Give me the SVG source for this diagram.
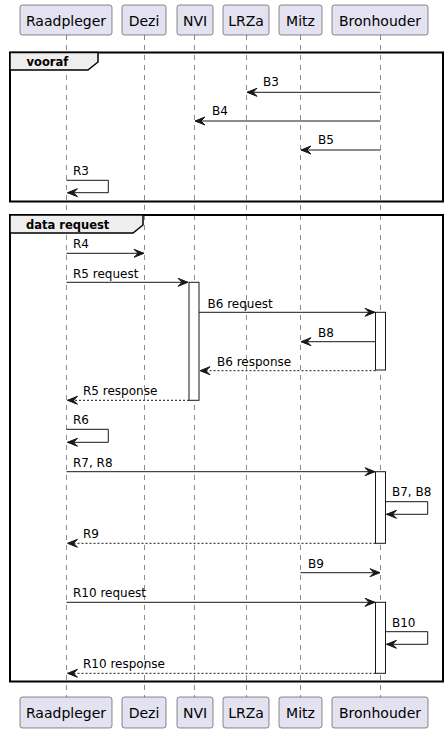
<svg xmlns="http://www.w3.org/2000/svg" width="447" height="733" viewBox="0 0 447 733">
<style>
.pbox{fill:#E2E2F0;stroke:#181818;stroke-width:0.5}
.pt{font-family:"DejaVu Sans",sans-serif;font-size:14px;fill:#000;text-anchor:middle}
.life{stroke:#181818;stroke-width:0.5;stroke-dasharray:5,5}
.frame{fill:none;stroke:#000;stroke-width:2}
.tab{fill:#EEEEEE;stroke:#000;stroke-width:1.5}
.tt{font-family:"DejaVu Sans",sans-serif;font-size:11.5px;font-weight:bold;fill:#000}
.act{fill:#FFFFFF;stroke:#181818;stroke-width:1}
.msg{fill:none;stroke:#181818;stroke-width:1;marker-end:url(#arr)}
.ret{fill:none;stroke:#181818;stroke-width:1;stroke-dasharray:2,2;marker-end:url(#arr)}
.ml{font-family:"DejaVu Sans",sans-serif;font-size:12px;fill:#000}
</style>
<defs>
<marker id="arr" markerUnits="userSpaceOnUse" markerWidth="12" markerHeight="10" refX="10" refY="4" orient="auto" overflow="visible">
<path d="M0,0 L10,4 L0,8 L4,4 Z" fill="#181818" stroke="#181818" stroke-width="1"/>
</marker>
</defs>
<rect width="447" height="733" fill="#FFFFFF"/>
<g id="lifelines">
<line class="life" x1="66.5" y1="35" x2="66.5" y2="697"/>
<line class="life" x1="144.5" y1="35" x2="144.5" y2="697"/>
<line class="life" x1="194.5" y1="35" x2="194.5" y2="697"/>
<line class="life" x1="246.5" y1="35" x2="246.5" y2="697"/>
<line class="life" x1="300.5" y1="35" x2="300.5" y2="697"/>
<line class="life" x1="380.5" y1="35" x2="380.5" y2="697"/>
</g>
<g id="frame-vooraf">
<rect class="frame" x="10" y="52.5" width="433" height="149"/>
<path class="tab" d="M10,52.5 H98 V62 L88,70 H10 Z"/>
<text class="tt" x="26.5" y="66">vooraf</text>
</g>
<g id="frame-data-request">
<rect class="frame" x="10" y="215" width="433" height="466.5"/>
<path class="tab" d="M10,215 H143 V225 L133,233 H10 Z"/>
<text class="tt" x="26" y="228.5">data request</text>
</g>
<g id="Raadpleger">
<rect class="pbox" x="20" y="5" width="92" height="30" rx="2.5"/>
<text class="pt" x="66" y="25.5">Raadpleger</text>
<rect class="pbox" x="20" y="697" width="92" height="31" rx="2.5"/>
<text class="pt" x="66" y="717.5">Raadpleger</text>
</g>
<g id="Dezi">
<rect class="pbox" x="122" y="5" width="44" height="30" rx="2.5"/>
<text class="pt" x="144" y="25.5">Dezi</text>
<rect class="pbox" x="122" y="697" width="44" height="31" rx="2.5"/>
<text class="pt" x="144" y="717.5">Dezi</text>
</g>
<g id="NVI">
<rect class="pbox" x="177" y="5" width="36" height="30" rx="2.5"/>
<text class="pt" x="195" y="25.5">NVI</text>
<rect class="pbox" x="177" y="697" width="36" height="31" rx="2.5"/>
<text class="pt" x="195" y="717.5">NVI</text>
<rect class="act" x="189" y="282.3" width="10" height="118"/>
</g>
<g id="LRZa">
<rect class="pbox" x="223" y="5" width="46" height="30" rx="2.5"/>
<text class="pt" x="246" y="25.5">LRZa</text>
<rect class="pbox" x="223" y="697" width="46" height="31" rx="2.5"/>
<text class="pt" x="246" y="717.5">LRZa</text>
</g>
<g id="Mitz">
<rect class="pbox" x="279" y="5" width="43" height="30" rx="2.5"/>
<text class="pt" x="300.5" y="25.5">Mitz</text>
<rect class="pbox" x="279" y="697" width="43" height="31" rx="2.5"/>
<text class="pt" x="300.5" y="717.5">Mitz</text>
</g>
<g id="Bronhouder">
<rect class="pbox" x="332" y="5" width="96" height="30" rx="2.5"/>
<text class="pt" x="380" y="25.5">Bronhouder</text>
<rect class="pbox" x="332" y="697" width="96" height="31" rx="2.5"/>
<text class="pt" x="380" y="717.5">Bronhouder</text>
<rect class="act" x="375.5" y="312.3" width="10" height="57.7"/>
<rect class="act" x="375.5" y="471.7" width="10" height="71.6"/>
<rect class="act" x="375.5" y="602.3" width="10" height="71"/>
</g>
<g id="connectors">
<line class="msg" x1="380.5" y1="92.3" x2="247" y2="92.3"/>
<text class="ml" x="263" y="86">B3</text>
<line class="msg" x1="380.5" y1="121" x2="195" y2="121"/>
<text class="ml" x="212" y="115">B4</text>
<line class="msg" x1="380.5" y1="150" x2="301" y2="150"/>
<text class="ml" x="318" y="144">B5</text>
<path class="msg" d="M66.5,180.3 H108.3 V192.7 H67.5"/>
<text class="ml" x="73" y="174.5">R3</text>

<line class="msg" x1="66.5" y1="253.3" x2="144" y2="253.3"/>
<text class="ml" x="73" y="248.3">R4</text>
<line class="msg" x1="66.5" y1="282.3" x2="188" y2="282.3"/>
<text class="ml" x="73" y="277.5">R5 request</text>
<line class="msg" x1="199" y1="312.3" x2="375" y2="312.3"/>
<text class="ml" x="207.5" y="307.5">B6 request</text>
<line class="msg" x1="375.5" y1="341.7" x2="301" y2="341.7"/>
<text class="ml" x="318" y="336.5">B8</text>
<line class="ret" x1="375.5" y1="370.7" x2="200" y2="370.7"/>
<text class="ml" x="217" y="365.5">B6 response</text>
<line class="ret" x1="189" y1="400.3" x2="67.5" y2="400.3"/>
<text class="ml" x="83" y="395">R5 response</text>
<path class="msg" d="M66.5,429.3 H108.3 V442.3 H67.5"/>
<text class="ml" x="73" y="424">R6</text>
<line class="msg" x1="66.5" y1="471.7" x2="375" y2="471.7"/>
<text class="ml" x="73" y="466.5">R7, R8</text>
<path class="msg" d="M385.5,501.7 H427.7 V514.3 H386.5"/>
<text class="ml" x="392" y="496">B7, B8</text>
<line class="ret" x1="375.5" y1="543.3" x2="67.5" y2="543.3"/>
<text class="ml" x="83" y="538.3">R9</text>
<line class="msg" x1="300.5" y1="572.7" x2="380" y2="572.7"/>
<text class="ml" x="308" y="567.5">B9</text>
<line class="msg" x1="66.5" y1="602.3" x2="375" y2="602.3"/>
<text class="ml" x="73" y="596.5">R10 request</text>
<path class="msg" d="M385.5,631.7 H427.7 V644.3 H386.5"/>
<text class="ml" x="392" y="626.5">B10</text>
<line class="ret" x1="375.5" y1="673.3" x2="67.5" y2="673.3"/>
<text class="ml" x="83" y="668.3">R10 response</text>
</g>
</svg>
